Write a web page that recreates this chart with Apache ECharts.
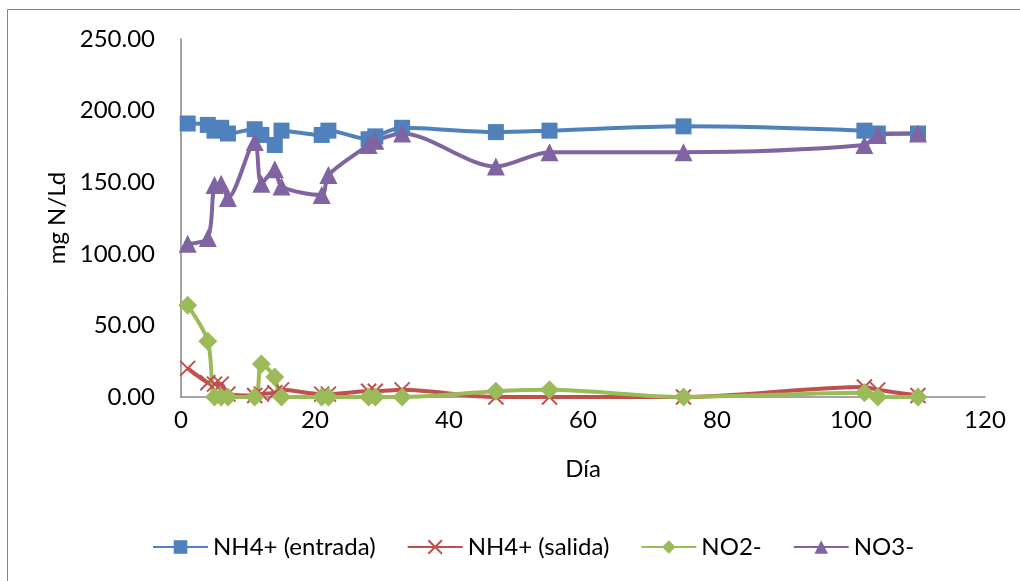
<!DOCTYPE html>
<html>
<head>
<meta charset="utf-8">
<script src="https://cdn.jsdelivr.net/npm/echarts@6/dist/echarts.min.js"></script>
<style>
html,body{margin:0;padding:0;background:#fff;}
#chart{width:1020px;height:581px;}
</style>
</head>
<body>
<div id="chart"></div>
<script>
const days = [1, 4, 5, 6, 7, 11, 12, 14, 15, 21, 22, 28, 29, 33, 47, 55, 75, 102, 104, 110];
const nh4Entrada = [191, 190, 186, 188, 184, 187, 183, 176, 186, 183, 186, 180, 182, 188, 185, 186, 189, 186, 184, 184];
const nh4Salida  = [20, 10, 9, 9, 2, 1, 2, 3, 5, 2, 2, 4, 4, 5, 0, 0, 0, 7, 5, 1];
const no2        = [64, 39, 0, 0, 0, 0, 23, 14, 0, 0, 0, 0, 0, 0, 4, 5, 0, 3, 0, 0];
const no3        = [107, 111, 148, 149, 139, 178, 149, 159, 147, 141, 155, 176, 179, 184, 161, 171, 171, 176, 183, 184];
const seriesNames = ['NH4+ (entrada)', 'NH4+ (salida)', 'NO2-', 'NO3-'];
const xTicks = [0, 20, 40, 60, 80, 100, 120];
const yTicks = [0, 50, 100, 150, 200, 250];

const pair = arr => days.map((d, i) => [d, arr[i]]);
const FONT = 'Lato, "Open Sans", sans-serif';
const crossPath = 'path://M0,0L10,10M10,0L0,10';

const chart = echarts.init(document.getElementById('chart'));
chart.setOption({
  animation: false,
  backgroundColor: '#ffffff',
  textStyle: { fontFamily: FONT },
  graphic: [{
    type: 'rect',
    shape: { x: 7.5, y: 9.5, width: 1100, height: 700 },
    style: { fill: 'none', stroke: '#868686', lineWidth: 1 },
    silent: true
  }],
  grid: { left: 181, right: 35, top: 39, bottom: 184 },
  legend: {
    left: 147, top: 530,
    itemWidth: 55, itemHeight: 17, itemGap: 31,
    textStyle: { fontFamily: FONT, fontSize: 24, color: '#000', padding: [0, 0, 0, 0] },
    data: seriesNames
  },
  xAxis: {
    type: 'value', min: 0, max: 120, interval: 20,
    name: 'Día', nameLocation: 'middle', nameGap: 60,
    nameTextStyle: { fontFamily: FONT, fontSize: 24, color: '#000' },
    axisLine: { show: true, lineStyle: { color: '#868686', width: 1.5 } },
    axisTick: { show: false },
    splitLine: { show: false },
    axisLabel: { fontFamily: FONT, fontSize: 24, color: '#000', margin: 11,
      formatter: v => xTicks.includes(v) ? String(v) : '' }
  },
  yAxis: {
    type: 'value', min: 0, max: 250, interval: 50,
    name: 'mg N/Ld', nameLocation: 'middle', nameGap: 108, nameRotate: 90,
    nameTextStyle: { fontFamily: FONT, fontSize: 24, color: '#000' },
    axisLine: { show: true, lineStyle: { color: '#868686', width: 1.5 } },
    axisTick: { show: false },
    splitLine: { show: false },
    axisLabel: { fontFamily: FONT, fontSize: 24, color: '#000', margin: 26,
      formatter: v => yTicks.includes(v) ? v.toFixed(2) : '' }
  },
  series: [
    {
      name: seriesNames[0], type: 'line', data: pair(nh4Entrada), smooth: 0.3,
      symbol: 'rect', symbolSize: 16,
      lineStyle: { color: '#4F81BD', width: 4 },
      itemStyle: { color: '#4F81BD' }
    },
    {
      name: seriesNames[1], type: 'line', data: pair(nh4Salida), smooth: 0.3,
      symbol: crossPath, symbolSize: 15,
      lineStyle: { color: '#C0504D', width: 4 },
      itemStyle: { color: '#C0504D', borderColor: '#C0504D', borderWidth: 2 }
    },
    {
      name: seriesNames[2], type: 'line', data: pair(no2), smooth: 0.3,
      symbol: 'diamond', symbolSize: 19,
      lineStyle: { color: '#9BBB59', width: 4 },
      itemStyle: { color: '#9BBB59' }
    },
    {
      name: seriesNames[3], type: 'line', data: pair(no3), smooth: 0.3,
      symbol: 'triangle', symbolSize: 18,
      lineStyle: { color: '#8064A2', width: 4 },
      itemStyle: { color: '#8064A2' }
    }
  ]
});
</script>
</body>
</html>
